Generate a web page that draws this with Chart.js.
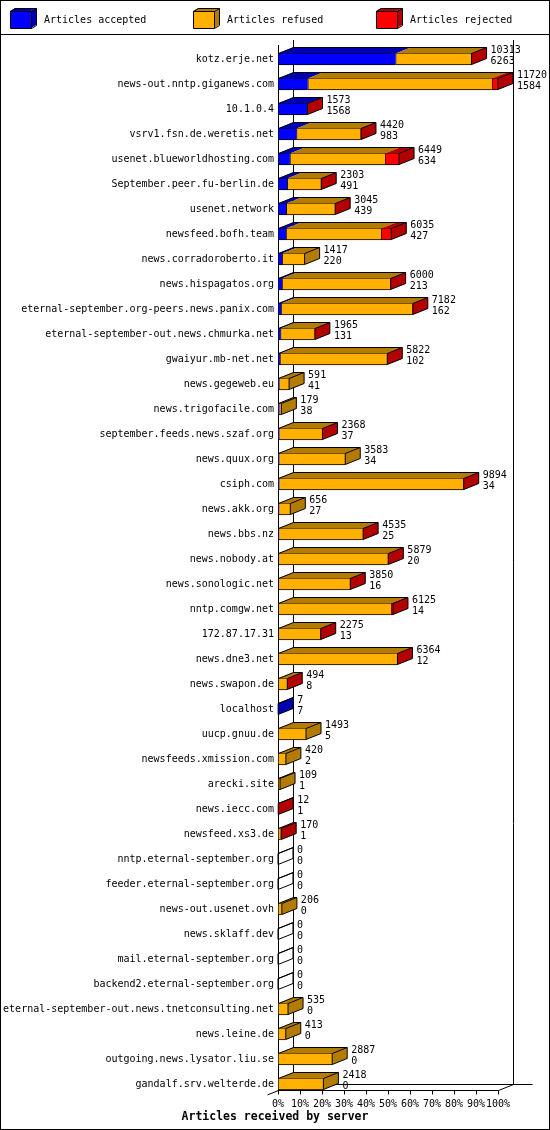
<!DOCTYPE html>
<html>
<head>
<meta charset="utf-8">
<title>Articles received by server</title>
<script src="https://cdn.jsdelivr.net/npm/chart.js@4.4.1/dist/chart.umd.min.js"></script>
<style>
  html, body { margin: 0; padding: 0; background: #fff; }
  canvas { display: block; }
</style>
</head>
<body>
<canvas id="serverChart" width="550" height="1130"></canvas>
<script>
// Dados do gráfico
const hosts = [
    'kotz.erje.net', 'news-out.nntp.giganews.com', '10.1.0.4', 'vsrv1.fsn.de.weretis.net',
    'usenet.blueworldhosting.com', 'September.peer.fu-berlin.de', 'usenet.network', 'newsfeed.bofh.team',
    'news.corradoroberto.it', 'news.hispagatos.org', 'eternal-september.org-peers.news.panix.com',
    'eternal-september-out.news.chmurka.net', 'gwaiyur.mb-net.net', 'news.gegeweb.eu', 'news.trigofacile.com',
    'september.feeds.news.szaf.org', 'news.quux.org', 'csiph.com', 'news.akk.org', 'news.bbs.nz',
    'news.nobody.at', 'news.sonologic.net', 'nntp.comgw.net', '172.87.17.31', 'news.dne3.net',
    'news.swapon.de', 'localhost', 'uucp.gnuu.de', 'newsfeeds.xmission.com', 'arecki.site', 'news.iecc.com',
    'newsfeed.xs3.de', 'nntp.eternal-september.org', 'feeder.eternal-september.org', 'news-out.usenet.ovh',
    'news.sklaff.dev', 'mail.eternal-september.org', 'backend2.eternal-september.org',
    'eternal-september-out.news.tnetconsulting.net', 'news.leine.de', 'outgoing.news.lysator.liu.se',
    'gandalf.srv.welterde.de'
];
const accepted = [6263, 1584, 1568, 983, 634, 491, 439, 427, 220, 213, 162, 131, 102, 41, 38, 37, 34, 34, 27, 25,
    20, 16, 14, 13, 12, 8, 7, 5, 2, 1, 1, 1, 0, 0, 0, 0, 0, 0, 0, 0, 0, 0];
const refused = [4030, 9806, 0, 3422, 5065, 1802, 2596, 5073, 1197, 5777, 7005, 1824, 5710, 550, 141, 2321, 3549,
    9845, 629, 4500, 5819, 3824, 5991, 2252, 6342, 481, 0, 1488, 418, 108, 0, 140, 0, 0, 206, 0, 0, 0, 535, 413,
    2887, 2418];
const rejected = [20, 330, 5, 15, 750, 10, 10, 535, 0, 10, 15, 10, 10, 0, 0, 10, 0, 15, 0, 10, 40, 10, 120, 10, 10,
    5, 0, 0, 0, 0, 11, 29, 0, 0, 0, 0, 0, 0, 0, 0, 0, 0];
const percentLabels = ['0%', '10%', '20%', '30%', '40%', '50%', '60%', '70%', '80%', '90%', '100%'];
const seriesNames = ['Articles accepted', 'Articles refused', 'Articles rejected'];
const chartTitle = 'Articles received by server';

const frontColors = ['#0000ff', '#ffb000', '#ff0000'];
const sideColors = ['#0000b3', '#b37b00', '#b30000'];
const MONO = '"DejaVu Sans Mono", "Liberation Mono", monospace';
const DX = 15, DY = 6; // profundidade do efeito 3D

const series = [accepted, refused, rejected];
const totals = hosts.map((h, j) => accepted[j] + refused[j] + rejected[j]);
const maxTotal = Math.max(...totals);

function line(ctx, x1, y1, x2, y2) {
    ctx.beginPath();
    ctx.moveTo(x1, y1);
    ctx.lineTo(x2, y2);
    ctx.stroke();
}

function poly(ctx, pts, fill) {
    ctx.beginPath();
    ctx.moveTo(pts[0][0], pts[0][1]);
    pts.slice(1).forEach(p => ctx.lineTo(p[0], p[1]));
    ctx.closePath();
    ctx.fillStyle = fill;
    ctx.fill();
}

// Plugin que desenha as paredes, as faces 3D, os valores e a legenda
const depthPlugin = {
    id: 'depth3d',
    beforeDraw(chart) {
        const ctx = chart.ctx;
        ctx.save();
        ctx.fillStyle = '#fff';
        ctx.fillRect(0, 0, chart.width, chart.height);
        ctx.restore();
    },
    beforeDatasetsDraw(chart) {
        const ctx = chart.ctx;
        const xs = chart.scales.x;
        const meta = chart.getDatasetMeta(0);
        const first = meta.data[0];
        const last = meta.data[hosts.length - 1];
        const x0 = Math.round(xs.getPixelForValue(0)) + 0.5;
        const x100 = Math.round(xs.getPixelForValue(maxTotal)) + 0.5;
        const topY = Math.round(first.y - first.height / 2);
        const floorY = Math.round(last.y + last.height / 2) + 0.5;

        ctx.save();
        ctx.strokeStyle = '#000';
        ctx.lineWidth = 1;
        // parede do fundo
        line(ctx, x0 + DX, topY - 13, x0 + DX, floorY - DY);
        line(ctx, x100 + DX, topY - 13, x100 + DX, floorY - DY);
        line(ctx, x0 + DX, floorY - DY, x100 + DX + 19, floorY - DY);
        // chão e eixo da frente
        line(ctx, x0 - 11, floorY + 4.4, x0 + DX, floorY - DY);
        line(ctx, x0, topY - 8, x0, floorY);
        line(ctx, x0, floorY, x100, floorY);
        line(ctx, x100, floorY, x100 + DX, floorY - DY);
        xs.ticks.forEach((t, k) => {
            const px = Math.round(xs.getPixelForTick(k)) + 0.5;
            line(ctx, px, floorY, px, floorY + 4);
        });
        ctx.restore();
    },
    afterDatasetsDraw(chart) {
        const ctx = chart.ctx;
        const xs = chart.scales.x;
        const meta = chart.getDatasetMeta(0);
        ctx.save();
        ctx.lineWidth = 1;
        ctx.strokeStyle = '#000';
        hosts.forEach((host, j) => {
            const el = meta.data[j];
            const top = Math.round(el.y - el.height / 2) + 0.5;
            const bottom = Math.round(el.y + el.height / 2) - 0.5;
            const x0 = Math.round(xs.getPixelForValue(0)) + 0.5;
            const x1 = xs.getPixelForValue(totals[j]);
            let cum = 0;
            let lastIdx = -1;
            series.forEach((vals, i) => {
                const v = vals[j];
                if (v <= 0) return;
                const a = xs.getPixelForValue(cum);
                const b = xs.getPixelForValue(cum + v);
                poly(ctx, [[a, top], [b, top], [b + DX, top - DY], [a + DX, top - DY]], sideColors[i]);
                cum += v;
                lastIdx = i;
            });
            if (lastIdx >= 0) {
                poly(ctx, [[x1, top], [x1 + DX, top - DY], [x1 + DX, bottom - DY], [x1, bottom]], sideColors[lastIdx]);
            }
            ctx.beginPath();
            ctx.moveTo(x0, top);
            ctx.lineTo(x0 + DX, top - DY);
            ctx.lineTo(x1 + DX, top - DY);
            ctx.lineTo(x1 + DX, bottom - DY);
            ctx.lineTo(x1, bottom);
            ctx.moveTo(x1, top);
            ctx.lineTo(x1 + DX, top - DY);
            ctx.moveTo(x1, top);
            ctx.lineTo(x1, bottom);
            ctx.stroke();

            // valores: total em cima, aceitos embaixo
            ctx.fillStyle = '#000';
            ctx.font = '10px ' + MONO;
            ctx.textAlign = 'left';
            ctx.textBaseline = 'middle';
            ctx.fillText(String(totals[j]), x1 + DX + 4, top - 3.5);
            ctx.fillText(String(accepted[j]), x1 + DX + 4, bottom - 3);
        });
        ctx.restore();
    },
    afterDraw(chart) {
        const ctx = chart.ctx;
        ctx.save();
        ctx.strokeStyle = '#000';
        ctx.lineWidth = 1;
        // legenda
        seriesNames.forEach((name, i) => {
            const x = 10 + i * 183;
            poly(ctx, [[x, 11], [x + 5, 8], [x + 26, 8], [x + 21, 11]], sideColors[i]);
            poly(ctx, [[x + 21, 11], [x + 26, 8], [x + 26, 25], [x + 21, 28]], sideColors[i]);
            ctx.fillStyle = frontColors[i];
            ctx.fillRect(x, 11, 21, 17);
            ctx.beginPath();
            ctx.rect(x + 0.5, 11.5, 21, 17);
            ctx.moveTo(x + 0.5, 11.5);
            ctx.lineTo(x + 5.5, 8.5);
            ctx.lineTo(x + 26.5, 8.5);
            ctx.lineTo(x + 26.5, 25.5);
            ctx.lineTo(x + 21.5, 28.5);
            ctx.moveTo(x + 21.5, 11.5);
            ctx.lineTo(x + 26.5, 8.5);
            ctx.stroke();
            ctx.fillStyle = '#000';
            ctx.font = '10px ' + MONO;
            ctx.textAlign = 'left';
            ctx.textBaseline = 'middle';
            ctx.fillText(name, x + 34, 20);
        });
        line(ctx, 0, 34.5, chart.width, 34.5);
        ctx.strokeRect(0.5, 0.5, chart.width - 1, chart.height - 1);
        // título embaixo, centralizado na imagem
        ctx.fillStyle = '#000';
        ctx.font = 'bold 11.5px ' + MONO;
        ctx.textAlign = 'center';
        ctx.textBaseline = 'middle';
        ctx.fillText(chartTitle, chart.width / 2, 1117);
        ctx.restore();
    }
};

const ctx = document.getElementById('serverChart').getContext('2d');
const serverChart = new Chart(ctx, {
    type: 'bar',
    data: {
        labels: hosts,
        datasets: series.map((vals, i) => ({
            label: seriesNames[i],
            data: vals,
            backgroundColor: frontColors[i],
            borderColor: '#000',
            borderWidth: { top: 1, bottom: 1, left: 1, right: 0 },
            borderSkipped: false,
            barThickness: 12
        }))
    },
    options: {
        indexAxis: 'y',
        responsive: false,
        animation: false,
        devicePixelRatio: 1,
        layout: { padding: { top: 46.5, right: 52, bottom: 22.8, left: 0 } },
        plugins: {
            legend: { display: false },
            tooltip: { enabled: false },
            title: { display: false }
        },
        scales: {
            x: {
                stacked: true,
                min: 0,
                max: maxTotal,
                grid: { display: false, drawTicks: false },
                border: { display: false },
                ticks: {
                    count: percentLabels.length,
                    padding: 1.5,
                    autoSkip: false,
                    maxRotation: 0,
                    color: '#000',
                    font: { family: MONO, size: 10 },
                    callback: (value, index) => percentLabels[index]
                },
                afterFit: (scale) => { scale.height = 10.7; }
            },
            y: {
                stacked: true,
                grid: { display: false, drawTicks: false },
                border: { display: false },
                ticks: {
                    autoSkip: false,
                    padding: 4,
                    color: '#000',
                    font: { family: MONO, size: 10 }
                },
                afterFit: (scale) => { scale.width = 278; }
            }
        }
    },
    plugins: [depthPlugin]
});
</script>
</body>
</html>
